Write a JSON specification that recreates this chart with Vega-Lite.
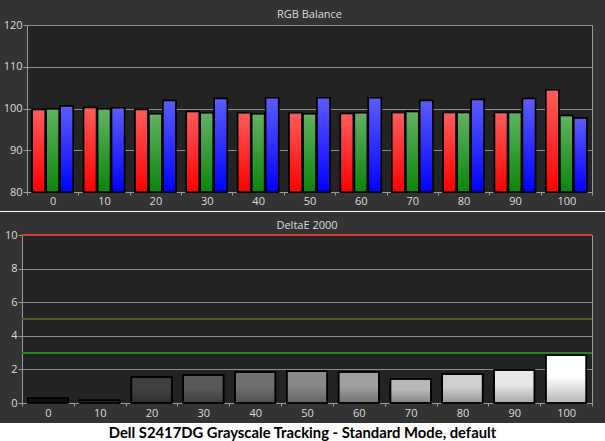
{
  "$schema": "https://vega.github.io/schema/vega-lite/v6.json",
  "background": "#333333",
  "padding": {"top": 8, "left": 0, "right": 0, "bottom": 0},
  "spacing": 4,
  "datasets": {
    "rgb": [
      {"level": 0, "channel": "R", "value": 99.75}, {"level": 0, "channel": "G", "value": 99.95}, {"level": 0, "channel": "B", "value": 100.6},
      {"level": 10, "channel": "R", "value": 100.25}, {"level": 10, "channel": "G", "value": 99.95}, {"level": 10, "channel": "B", "value": 100.2},
      {"level": 20, "channel": "R", "value": 99.75}, {"level": 20, "channel": "G", "value": 98.75}, {"level": 20, "channel": "B", "value": 101.9},
      {"level": 30, "channel": "R", "value": 99.3}, {"level": 30, "channel": "G", "value": 99.0}, {"level": 30, "channel": "B", "value": 102.4},
      {"level": 40, "channel": "R", "value": 99.0}, {"level": 40, "channel": "G", "value": 98.75}, {"level": 40, "channel": "B", "value": 102.6},
      {"level": 50, "channel": "R", "value": 99.0}, {"level": 50, "channel": "G", "value": 98.75}, {"level": 50, "channel": "B", "value": 102.6},
      {"level": 60, "channel": "R", "value": 98.8}, {"level": 60, "channel": "G", "value": 99.0}, {"level": 60, "channel": "B", "value": 102.6},
      {"level": 70, "channel": "R", "value": 99.05}, {"level": 70, "channel": "G", "value": 99.3}, {"level": 70, "channel": "B", "value": 101.9},
      {"level": 80, "channel": "R", "value": 99.05}, {"level": 80, "channel": "G", "value": 99.05}, {"level": 80, "channel": "B", "value": 102.15},
      {"level": 90, "channel": "R", "value": 99.05}, {"level": 90, "channel": "G", "value": 99.05}, {"level": 90, "channel": "B", "value": 102.4},
      {"level": 100, "channel": "R", "value": 104.5}, {"level": 100, "channel": "G", "value": 98.3}, {"level": 100, "channel": "B", "value": 97.7}
    ],
    "de": [
      {"level": 0, "de": 0.3}, {"level": 10, "de": 0.17}, {"level": 20, "de": 1.55}, {"level": 30, "de": 1.67},
      {"level": 40, "de": 1.85}, {"level": 50, "de": 1.9}, {"level": 60, "de": 1.85}, {"level": 70, "de": 1.43},
      {"level": 80, "de": 1.73}, {"level": 90, "de": 1.96}, {"level": 100, "de": 2.86}
    ]
  },
  "config": {
    "font": "Open Sans",
    "title": {"color": "#dcdcdc", "font": "Open Sans", "fontSize": 11, "fontWeight": "normal", "anchor": "middle"},
    "axis": {
      "labelColor": "#dcdcdc", "labelFont": "Open Sans", "labelFontSize": 11,
      "domainColor": "#9a9a9a", "tickColor": "#9a9a9a", "gridColor": "#8c8c8c", "gridOpacity": 1,
      "title": null
    }
  },
  "vconcat": [
    {
      "spacing": 0,
      "hconcat": [
        {"width": 1, "height": 1, "view": {"stroke": null, "fill": null}, "data": {"values": []}, "mark": "point"},
        {
          "width": 565, "height": 167,
          "title": {"text": "RGB Balance", "offset": -1},
          "view": {"fill": "#232323", "stroke": "#9a9a9a", "strokeWidth": 1},
          "data": {"name": "rgb"},
          "encoding": {
            "x": {"field": "level", "type": "ordinal", "scale": {"paddingInner": 0, "paddingOuter": 0},
                  "axis": {"labelAngle": 0, "tickBand": "extent", "tickSize": 3, "labelPadding": 0, "grid": false, "minExtent": 14, "maxExtent": 14}},
            "xOffset": {"field": "channel", "type": "nominal", "sort": ["R", "G", "B"], "scale": {"paddingInner": 0.07, "paddingOuter": 0.37}},
            "y": {"field": "value", "type": "quantitative", "scale": {"domain": [80, 120], "nice": false, "zero": false},
                  "axis": {"values": [80, 90, 100, 110, 120], "grid": true, "tickSize": 4, "labelPadding": 1, "minExtent": 25, "maxExtent": 25}},
            "y2": {"datum": 80}
          },
          "layer": [
            {"mark": {"type": "bar", "stroke": "black", "strokeWidth": 1.5},
             "encoding": {"color": {"field": "channel", "type": "nominal", "scale": {"domain": ["R", "G", "B"], "range": ["#ff0000", "#0a860a", "#0000ff"]}, "legend": null}}},
            {"mark": {"type": "bar", "stroke": "black", "strokeWidth": 1.5,
                      "fill": {"gradient": "linear", "x1": 0, "y1": 0, "x2": 0, "y2": 1,
                               "stops": [{"offset": 0, "color": "rgba(255,255,255,0.36)"}, {"offset": 1, "color": "rgba(255,255,255,0)"}]}}}
          ]
        }
      ]
    },
    {
      "spacing": 7,
      "vconcat": [
        {
          "width": 605, "height": 1,
          "view": {"fill": "#ffffff", "stroke": null},
          "data": {"values": []},
          "mark": "point"
        },
        {
          "spacing": 0,
          "hconcat": [
            {"width": 1, "height": 1, "view": {"stroke": null, "fill": null}, "data": {"values": []}, "mark": "point"},
            {
              "width": 570, "height": 168,
              "title": {"text": "DeltaE 2000", "offset": -2},
              "view": {"fill": "#232323", "stroke": "#9a9a9a", "strokeWidth": 1},
              "data": {"name": "de"},
              "encoding": {
                "y": {"field": "de", "type": "quantitative", "scale": {"domain": [0, 10], "nice": false},
                      "axis": {"values": [0, 2, 4, 6, 8, 10], "grid": true, "tickSize": 4, "labelPadding": 1, "minExtent": 20, "maxExtent": 20}}
              },
              "layer": [
                {"mark": {"type": "rule", "color": "#1e8c1e", "strokeWidth": 1.2}, "encoding": {"y": {"datum": 3, "type": "quantitative"}}},
                {"mark": {"type": "rule", "color": "#5c5a2a", "strokeWidth": 1.5}, "encoding": {"y": {"datum": 5, "type": "quantitative"}}},
                {"mark": {"type": "bar", "width": {"band": 0.78}, "stroke": "black", "strokeWidth": 1.5},
                 "encoding": {
                   "x": {"field": "level", "type": "ordinal", "scale": {"paddingInner": 0, "paddingOuter": 0},
                         "axis": {"labelAngle": 0, "tickBand": "extent", "tickSize": 3, "labelPadding": 1, "grid": false, "minExtent": 14, "maxExtent": 14}},
                   "color": {"field": "level", "type": "quantitative", "scale": {"domain": [0, 100], "range": ["#101010", "#ffffff"], "interpolate": "rgb"}, "legend": null}
                 }},
                {"mark": {"type": "bar", "width": {"band": 0.78}, "stroke": "black", "strokeWidth": 1.5,
                          "fill": {"gradient": "linear", "x1": 0, "y1": 0, "x2": 0, "y2": 1,
                                   "stops": [{"offset": 0, "color": "rgba(0,0,0,0)"}, {"offset": 0.45, "color": "rgba(0,0,0,0)"}, {"offset": 1, "color": "rgba(0,0,0,0.28)"}]}},
                 "encoding": {"x": {"field": "level", "type": "ordinal"}}},
                {"mark": {"type": "rule", "color": "#d03a3a", "strokeWidth": 2}, "encoding": {"y": {"datum": 10, "type": "quantitative"}}}
              ]
            }
          ]
        }
      ]
    },
    {
      "width": 605, "height": 21,
      "view": {"fill": "#ffffff", "stroke": null},
      "data": {"values": [{"t": "Dell S2417DG Grayscale Tracking - Standard Mode, default"}]},
      "mark": {"type": "text", "font": "Lato", "fontWeight": "bold", "fontSize": 14.8, "color": "#000000", "baseline": "middle", "align": "center"},
      "encoding": {"text": {"field": "t", "type": "nominal"}}
    }
  ]
}
